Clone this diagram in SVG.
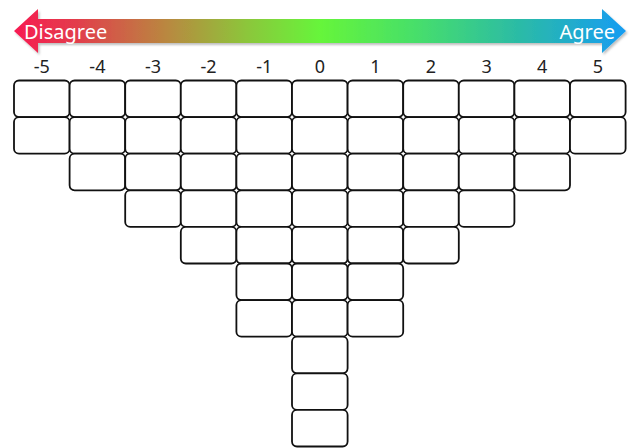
<svg xmlns="http://www.w3.org/2000/svg" width="629" height="448" viewBox="0 0 629 448">
<defs>
<linearGradient id="g" gradientUnits="userSpaceOnUse" x1="14" y1="0" x2="626" y2="0">
<stop offset="0" stop-color="#f71b52"/>
<stop offset="0.1" stop-color="#e33c4c"/>
<stop offset="0.25" stop-color="#b98840"/>
<stop offset="0.38" stop-color="#8cc63a"/>
<stop offset="0.5" stop-color="#66f53a"/>
<stop offset="0.65" stop-color="#48e068"/>
<stop offset="0.82" stop-color="#2cbca4"/>
<stop offset="1" stop-color="#169cf2"/>
</linearGradient>
<filter id="sh" x="-5%" y="-30%" width="110%" height="160%">
<feDropShadow dx="1.5" dy="2" stdDeviation="1.2" flood-color="#000" flood-opacity="0.25"/>
</filter>
</defs>
<style>
.b{fill:#fff;stroke:#111;stroke-width:1.8}
.n{font-family:"Noto Sans","Lato",sans-serif;font-size:18px;fill:#222;text-anchor:middle}
.l{font-family:"Noto Sans","Lato",sans-serif;font-size:20px;fill:#fff}
</style>
<g id="scale">
<path d="M14,31 L38,9 L38,19 L602,19 L602,9 L626,31 L602,53 L602,43 L38,43 L38,53 Z" fill="url(#g)" filter="url(#sh)"/>
<text class="l" x="24" y="38.5">Disagree</text>
<text class="l" x="615" y="38.5" text-anchor="end">Agree</text>
</g>
<g id="labels">
<text class="n" x="41.8" y="73">-5</text>
<text class="n" x="97.4" y="73">-4</text>
<text class="n" x="153" y="73">-3</text>
<text class="n" x="208.6" y="73">-2</text>
<text class="n" x="264.2" y="73">-1</text>
<text class="n" x="319.8" y="73">0</text>
<text class="n" x="375.4" y="73">1</text>
<text class="n" x="431" y="73">2</text>
<text class="n" x="486.6" y="73">3</text>
<text class="n" x="542.2" y="73">4</text>
<text class="n" x="597.8" y="73">5</text>
</g>
<g id="col-m5">
<rect class="b" x="14" y="80.5" width="55.6" height="36.6" rx="5"/>
<rect class="b" x="14" y="117.1" width="55.6" height="36.6" rx="5"/>
</g>
<g id="col-m4">
<rect class="b" x="69.6" y="80.5" width="55.6" height="36.6" rx="5"/>
<rect class="b" x="69.6" y="117.1" width="55.6" height="36.6" rx="5"/>
<rect class="b" x="69.6" y="153.7" width="55.6" height="36.6" rx="5"/>
</g>
<g id="col-m3">
<rect class="b" x="125.2" y="80.5" width="55.6" height="36.6" rx="5"/>
<rect class="b" x="125.2" y="117.1" width="55.6" height="36.6" rx="5"/>
<rect class="b" x="125.2" y="153.7" width="55.6" height="36.6" rx="5"/>
<rect class="b" x="125.2" y="190.3" width="55.6" height="36.6" rx="5"/>
</g>
<g id="col-m2">
<rect class="b" x="180.8" y="80.5" width="55.6" height="36.6" rx="5"/>
<rect class="b" x="180.8" y="117.1" width="55.6" height="36.6" rx="5"/>
<rect class="b" x="180.8" y="153.7" width="55.6" height="36.6" rx="5"/>
<rect class="b" x="180.8" y="190.3" width="55.6" height="36.6" rx="5"/>
<rect class="b" x="180.8" y="226.9" width="55.6" height="36.6" rx="5"/>
</g>
<g id="col-m1">
<rect class="b" x="236.4" y="80.5" width="55.6" height="36.6" rx="5"/>
<rect class="b" x="236.4" y="117.1" width="55.6" height="36.6" rx="5"/>
<rect class="b" x="236.4" y="153.7" width="55.6" height="36.6" rx="5"/>
<rect class="b" x="236.4" y="190.3" width="55.6" height="36.6" rx="5"/>
<rect class="b" x="236.4" y="226.9" width="55.6" height="36.6" rx="5"/>
<rect class="b" x="236.4" y="263.5" width="55.6" height="36.6" rx="5"/>
<rect class="b" x="236.4" y="300.1" width="55.6" height="36.6" rx="5"/>
</g>
<g id="col-0">
<rect class="b" x="292" y="80.5" width="55.6" height="36.6" rx="5"/>
<rect class="b" x="292" y="117.1" width="55.6" height="36.6" rx="5"/>
<rect class="b" x="292" y="153.7" width="55.6" height="36.6" rx="5"/>
<rect class="b" x="292" y="190.3" width="55.6" height="36.6" rx="5"/>
<rect class="b" x="292" y="226.9" width="55.6" height="36.6" rx="5"/>
<rect class="b" x="292" y="263.5" width="55.6" height="36.6" rx="5"/>
<rect class="b" x="292" y="300.1" width="55.6" height="36.6" rx="5"/>
<rect class="b" x="292" y="336.7" width="55.6" height="36.6" rx="5"/>
<rect class="b" x="292" y="373.3" width="55.6" height="36.6" rx="5"/>
<rect class="b" x="292" y="409.9" width="55.6" height="36.6" rx="5"/>
</g>
<g id="col-1">
<rect class="b" x="347.6" y="80.5" width="55.6" height="36.6" rx="5"/>
<rect class="b" x="347.6" y="117.1" width="55.6" height="36.6" rx="5"/>
<rect class="b" x="347.6" y="153.7" width="55.6" height="36.6" rx="5"/>
<rect class="b" x="347.6" y="190.3" width="55.6" height="36.6" rx="5"/>
<rect class="b" x="347.6" y="226.9" width="55.6" height="36.6" rx="5"/>
<rect class="b" x="347.6" y="263.5" width="55.6" height="36.6" rx="5"/>
<rect class="b" x="347.6" y="300.1" width="55.6" height="36.6" rx="5"/>
</g>
<g id="col-2">
<rect class="b" x="403.2" y="80.5" width="55.6" height="36.6" rx="5"/>
<rect class="b" x="403.2" y="117.1" width="55.6" height="36.6" rx="5"/>
<rect class="b" x="403.2" y="153.7" width="55.6" height="36.6" rx="5"/>
<rect class="b" x="403.2" y="190.3" width="55.6" height="36.6" rx="5"/>
<rect class="b" x="403.2" y="226.9" width="55.6" height="36.6" rx="5"/>
</g>
<g id="col-3">
<rect class="b" x="458.8" y="80.5" width="55.6" height="36.6" rx="5"/>
<rect class="b" x="458.8" y="117.1" width="55.6" height="36.6" rx="5"/>
<rect class="b" x="458.8" y="153.7" width="55.6" height="36.6" rx="5"/>
<rect class="b" x="458.8" y="190.3" width="55.6" height="36.6" rx="5"/>
</g>
<g id="col-4">
<rect class="b" x="514.4" y="80.5" width="55.6" height="36.6" rx="5"/>
<rect class="b" x="514.4" y="117.1" width="55.6" height="36.6" rx="5"/>
<rect class="b" x="514.4" y="153.7" width="55.6" height="36.6" rx="5"/>
</g>
<g id="col-5">
<rect class="b" x="570" y="80.5" width="55.6" height="36.6" rx="5"/>
<rect class="b" x="570" y="117.1" width="55.6" height="36.6" rx="5"/>
</g>
</svg>
